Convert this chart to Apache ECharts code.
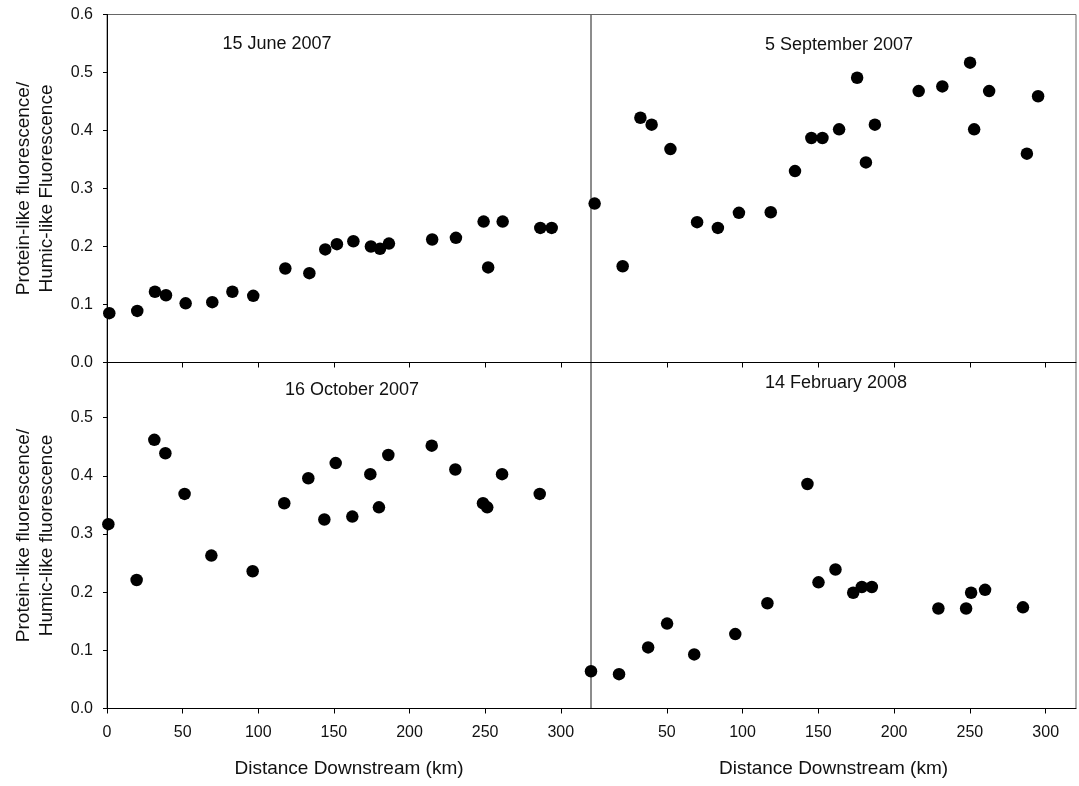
<!DOCTYPE html>
<html>
<head>
<meta charset="utf-8">
<script src="https://cdn.jsdelivr.net/npm/echarts@6/dist/echarts.min.js"></script>
<style>
html,body{margin:0;padding:0;background:#fff;}
#chart{width:1079px;height:786px;}
</style>
</head>
<body>
<div id="chart"></div>
<script>
// ---- data (Distance Downstream km, ratio) ----
const junDist  = [1.5, 20, 31.7, 39, 52, 69.6, 82.9, 96.7, 117.9, 133.8, 144.3, 152, 162.9, 174.5, 180.5, 186.4, 215, 230.7, 249, 252, 261.6, 286.5, 294];
const junRatio = [0.085, 0.089, 0.122, 0.116, 0.102, 0.104, 0.122, 0.115, 0.162, 0.154, 0.195, 0.204, 0.209, 0.200, 0.196, 0.205, 0.212, 0.215, 0.243, 0.164, 0.243, 0.232, 0.232];

const sepDist  = [2.4, 20.9, 32.6, 40, 52.4, 70, 83.7, 97.6, 118.6, 134.6, 145.4, 152.7, 163.7, 175.6, 181.4, 187.3, 216.2, 231.8, 250.1, 252.8, 262.7, 287.6, 295];
const sepRatio = [0.274, 0.166, 0.422, 0.410, 0.368, 0.242, 0.232, 0.258, 0.259, 0.330, 0.387, 0.387, 0.402, 0.491, 0.345, 0.410, 0.468, 0.476, 0.517, 0.402, 0.468, 0.360, 0.459];

const octDist  = [0.9, 19.6, 31.3, 38.6, 51.3, 69, 96.3, 117.2, 133.1, 143.7, 151.2, 162.2, 174.1, 179.8, 186, 214.7, 230.3, 248.6, 251.4, 261.2, 286.1];
const octRatio = [0.317, 0.221, 0.462, 0.439, 0.369, 0.263, 0.236, 0.353, 0.396, 0.325, 0.422, 0.330, 0.403, 0.346, 0.436, 0.452, 0.411, 0.353, 0.346, 0.403, 0.369];

const febDist  = [0, 18.5, 37.7, 50.2, 68.1, 95.2, 116.4, 142.8, 150.1, 161.3, 173, 178.7, 185.3, 229.2, 247.5, 250.8, 260, 285];
const febRatio = [0.064, 0.059, 0.105, 0.146, 0.093, 0.128, 0.181, 0.386, 0.217, 0.239, 0.199, 0.209, 0.209, 0.172, 0.172, 0.199, 0.204, 0.174];

const panelTitles = ['15 June 2007', '5 September 2007', '16 October 2007', '14 February 2008'];
const xTicksLeft  = [0, 50, 100, 150, 200, 250, 300];
const xTicksRight = [50, 100, 150, 200, 250, 300];
const yTicksTop    = [0, 0.1, 0.2, 0.3, 0.4, 0.5, 0.6];
const yTicksBottom = [0, 0.1, 0.2, 0.3, 0.4, 0.5];
const xName = 'Distance Downstream (km)';
const yNameTop = 'Protein-like fluorescence/\nHumic-like Fluorescence';
const yNameBottom = 'Protein-like fluorescence/\nHumic-like fluorescence';

const FONT = 'Liberation Sans, Arial, sans-serif';
const chart = echarts.init(document.getElementById('chart'), null, {renderer: 'canvas'});

function zip(a, b) { return a.map((v, i) => [v, b[i]]); }

const grids = [
  {left: 107, top: 14.5, width: 484, height: 348},
  {left: 591, top: 14.5, width: 485, height: 348},
  {left: 107, top: 362.5, width: 484, height: 346},
  {left: 591, top: 362.5, width: 485, height: 346}
].map(g => Object.assign({show: true, borderColor: '#666', borderWidth: 1, backgroundColor: 'transparent'}, g));

function xAxis(i) {
  const isLeft = (i % 2 === 0);
  const isBottom = i >= 2;
  const ticks = isLeft ? xTicksLeft : xTicksRight;
  return {
    type: 'value', gridIndex: i, min: 0, max: 320,
    axisLine: {show: true, onZero: false, lineStyle: {color: '#000', width: 1}},
    axisTick: {show: true, inside: false, length: 5, customValues: ticks, lineStyle: {color: '#000'}},
    axisLabel: {show: isBottom, customValues: ticks, margin: 16, fontSize: 16, color: '#111', fontFamily: FONT},
    splitLine: {show: false},
    name: isBottom ? xName : '',
    nameLocation: 'middle', nameGap: 51,
    nameTextStyle: {fontSize: 19, color: '#111', fontFamily: FONT}
  };
}

function yAxis(i) {
  const isLeft = (i % 2 === 0);
  const isBottom = i >= 2;
  const ticks = isBottom ? yTicksBottom : yTicksTop;
  return {
    type: 'value', gridIndex: i, min: 0, max: isBottom ? 0.595 : 0.6,
    axisLine: {show: isLeft, onZero: false, lineStyle: {color: '#000', width: 1}},
    axisTick: {show: isLeft, inside: false, length: 4, customValues: ticks, lineStyle: {color: '#000'}},
    axisLabel: {show: isLeft, customValues: ticks, margin: 14, fontSize: 16, color: '#111', fontFamily: FONT,
      formatter: v => v.toFixed(1)},
    splitLine: {show: false},
    name: isLeft ? (isBottom ? yNameBottom : yNameTop) : '',
    nameLocation: 'middle', nameGap: 49, nameRotate: 90,
    nameTextStyle: {fontSize: 19, lineHeight: 23, color: '#111', fontFamily: FONT, align: 'center'}
  };
}

const datasets = [zip(junDist, junRatio), zip(sepDist, sepRatio), zip(octDist, octRatio), zip(febDist, febRatio)];

const titlePos = [[277, 44], [839, 45], [352, 390], [836, 383]];

chart.setOption({
  animation: false,
  backgroundColor: '#fff',
  grid: grids,
  xAxis: [0, 1, 2, 3].map(xAxis),
  yAxis: [0, 1, 2, 3].map(yAxis),
  series: datasets.map((d, i) => ({
    type: 'scatter', xAxisIndex: i, yAxisIndex: i, data: d,
    symbol: 'circle', symbolSize: 12.5, clip: false,
    itemStyle: {color: '#000', opacity: 1}
  })),
  graphic: panelTitles.map((t, i) => ({
    type: 'text', x: titlePos[i][0], y: titlePos[i][1], z: 100,
    style: {text: t, fontSize: 18, fontFamily: FONT, fill: '#111', align: 'center', verticalAlign: 'middle'}
  }))
});
</script>
</body>
</html>
